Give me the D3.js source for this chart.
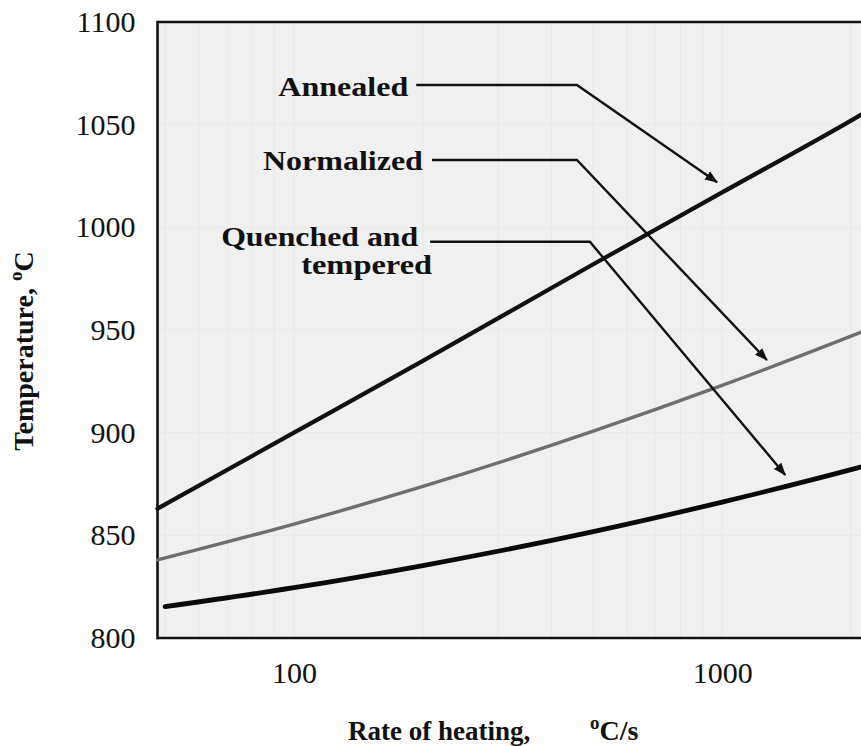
<!DOCTYPE html>
<html>
<head>
<meta charset="utf-8">
<script src="https://cdn.jsdelivr.net/npm/d3@7"></script>
<style>
  body { margin: 0; background: #fff; }
  svg { display: block; }
  text { font-family: "Liberation Serif", "Times New Roman", serif; fill: #111; }
</style>
</head>
<body>
<svg id="chart" width="861" height="746"></svg>
<script>
// Austenitizing temperature versus heating rate for three initial structures
const rates          = [48, 100, 200, 500, 1000, 2000, 2200];
const annealed       = [863, 900, 935, 982, 1017, 1052, 1057];
const normalized     = [838, 855.5, 873.8, 900.7, 923, 947, 950.4];
const quenchedRates  = [50, 100, 200, 500, 1000, 2000, 2200];
const quenched       = [815.3, 824.5, 835.3, 851.8, 866.2, 882, 884.3];

const xTicks = [100, 1000];
const yTicks = [800, 850, 900, 950, 1000, 1050, 1100];
const xGrid  = [50, 60, 70, 80, 90, 100, 200, 300, 400, 500, 600, 700, 800, 900, 1000, 2000];

// Callouts in data space: label lines, start of leader, bend, arrow tip
const callouts = [
  { lines: ["Annealed"],                 color: "#111", start: 193, bend: [458, 1069.3], tip: [973, 1022] },
  { lines: ["Normalized"],               color: "#555", start: 210, bend: [458, 1032.8], tip: [1272, 935.4] },
  { lines: ["Quenched and", "tempered"], color: "#111", start: 208, bend: [491, 993.0], tip: [1404, 879.4] }
];

const svg = d3.select("#chart");
const plot = { left: 157.5, top: 22, bottom: 638, right: 877 };

const x = d3.scaleLog().domain([48, 2300]).range([plot.left, plot.right]);
const y = d3.scaleLinear().domain([800, 1100]).range([plot.bottom, plot.top]);

// plot background
svg.append("rect")
  .attr("x", plot.left).attr("y", plot.top)
  .attr("width", plot.right - plot.left).attr("height", plot.bottom - plot.top)
  .attr("fill", "#f0f0f0");

// faint grid
svg.append("g").selectAll("line").data(xGrid).join("line")
  .attr("x1", d => x(d)).attr("x2", d => x(d))
  .attr("y1", plot.top).attr("y2", plot.bottom)
  .attr("stroke", "#e7e7e7").attr("stroke-width", 1);
svg.append("g").selectAll("line").data(yTicks.slice(1, -1)).join("line")
  .attr("x1", plot.left).attr("x2", plot.right)
  .attr("y1", d => y(d)).attr("y2", d => y(d))
  .attr("stroke", "#e9e9e9").attr("stroke-width", 1);

// axes (labels only; frame drawn separately)
const yAxis = svg.append("g")
  .attr("transform", `translate(${plot.left},0)`)
  .call(d3.axisLeft(y).tickValues(yTicks).tickSize(0).tickPadding(22).tickFormat(d3.format("d")));
yAxis.select(".domain").remove();
yAxis.selectAll("text").attr("font-size", 30).attr("font-family", "Liberation Serif").attr("fill", "#1a1a1a");

const xAxis = svg.append("g")
  .attr("transform", `translate(0,${plot.bottom})`)
  .call(d3.axisBottom(x).tickValues(xTicks).tickSize(0).tickPadding(24).tickFormat(d3.format("d")));
xAxis.select(".domain").remove();
xAxis.selectAll("text").attr("font-size", 30).attr("font-family", "Liberation Serif").attr("fill", "#1a1a1a");

// frame: left, top, bottom
const frame = svg.append("g").attr("stroke", "#111").attr("stroke-width", 2.6).attr("fill", "none");
frame.append("line").attr("x1", plot.left).attr("x2", plot.left).attr("y1", plot.top - 1.3).attr("y2", plot.bottom + 1.3);
frame.append("line").attr("x1", plot.left).attr("x2", plot.right).attr("y1", plot.top).attr("y2", plot.top);
frame.append("line").attr("x1", plot.left).attr("x2", plot.right).attr("y1", plot.bottom).attr("y2", plot.bottom);

// curves
const line = d3.line().x(d => x(d[0])).y(d => y(d[1])).curve(d3.curveMonotoneX);
const series = [
  { rates: rates, temps: annealed, color: "#111", width: 4.2 },
  { rates: rates, temps: normalized, color: "#6e6e6e", width: 3.4 },
  { rates: quenchedRates, temps: quenched, color: "#0a0a0a", width: 4.8 }
];
svg.append("g").selectAll("path").data(series).join("path")
  .attr("d", s => line(s.rates.map((r, i) => [r, s.temps[i]])))
  .attr("fill", "none")
  .attr("stroke", s => s.color)
  .attr("stroke-width", s => s.width)
  .attr("stroke-linecap", "round");

// arrow marker
svg.append("defs").append("marker")
  .attr("id", "arrow").attr("viewBox", "0 0 12 10")
  .attr("refX", 11).attr("refY", 5)
  .attr("markerWidth", 13).attr("markerHeight", 11)
  .attr("markerUnits", "userSpaceOnUse").attr("orient", "auto")
  .append("path").attr("d", "M0,0.5 L12,5 L0,9.5 Z").attr("fill", "#111");

const co = svg.append("g");
callouts.forEach(c => {
  const yL = y(c.bend[1]);
  co.append("path")
    .attr("d", `M${x(c.start)},${yL} L${x(c.bend[0])},${yL} L${x(c.tip[0])},${y(c.tip[1])}`)
    .attr("fill", "none").attr("stroke", "#111").attr("stroke-width", 2.4)
    .attr("stroke-linejoin", "miter")
    .attr("marker-end", "url(#arrow)");
});

// callout labels (set in a wide bold face)
const lab = svg.append("g").attr("font-weight", "bold").attr("font-size", 28).attr("text-anchor", "end");
function label(text, xPos, yPos, width, color) {
  lab.append("text").attr("x", xPos).attr("y", yPos)
    .attr("textLength", width).attr("lengthAdjust", "spacingAndGlyphs")
    .attr("fill", color).text(text);
}
label(callouts[0].lines[0], x(callouts[0].start) - 8,  y(callouts[0].bend[1]) + 11, 130, callouts[0].color);
label(callouts[1].lines[0], x(callouts[1].start) - 9,  y(callouts[1].bend[1]) + 10, 160, callouts[1].color);
label(callouts[2].lines[0], x(callouts[2].start) - 12, y(callouts[2].bend[1]) + 4,  197, callouts[2].color);
label(callouts[2].lines[1], x(callouts[2].start) + 2,  y(callouts[2].bend[1]) + 32, 131, callouts[2].color);

// axis titles
const xt = svg.append("text").attr("x", 348).attr("y", 740)
  .attr("font-weight", "bold").attr("font-size", 27);
xt.append("tspan").text("Rate of heating,");
xt.append("tspan").attr("x", 590).attr("dy", -11).attr("font-size", 19).text("o");
xt.append("tspan").attr("dy", 11).attr("font-size", 28).text("C/s");

const yt = svg.append("text")
  .attr("transform", "translate(33,351) rotate(-90)")
  .attr("text-anchor", "middle")
  .attr("font-weight", "bold").attr("font-size", 28);
yt.append("tspan").text("Temperature, ");
yt.append("tspan").attr("dy", -11).attr("font-size", 19).text("o");
yt.append("tspan").attr("dy", 11).text("C");
</script>
</body>
</html>
